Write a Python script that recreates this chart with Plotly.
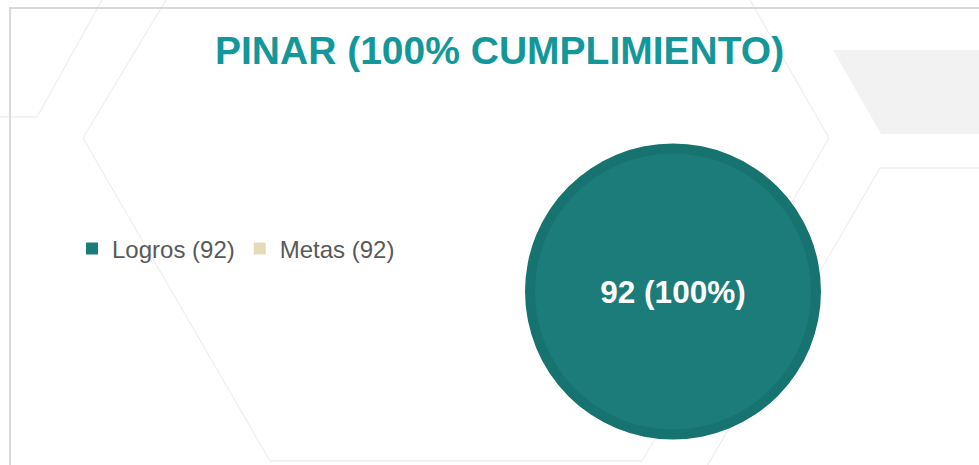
import plotly.graph_objects as go

# Counts for PINAR
logros = 92
metas = 92
pendiente = metas - logros

labels = [f"Logros ({logros})", f"Metas ({metas})"]
values = [logros, pendiente]
colors = ["#1c7c79", "#e6dbb9"]
ring_color = "#177370"
title_text = "PINAR (100% CUMPLIMIENTO)"

W, H = 979, 465


def px(x):
    return x / W


def py(y):
    return 1 - y / H


def seg(x0, y0, x1, y1, color="#efefef", width=1.3):
    return dict(type="line", xref="paper", yref="paper",
                x0=px(x0), y0=py(y0), x1=px(x1), y1=py(y1),
                line=dict(color=color, width=width), layer="below")


shapes = [
    # soft grey band top right
    dict(type="path", xref="paper", yref="paper", layer="below",
         path=f"M {px(833)} {py(50)} L {px(979)} {py(50)} L {px(979)} {py(134)} "
              f"L {px(881)} {py(134)} Z",
         fillcolor="#f2f2f2", line=dict(width=0)),
    # hexagon outlines in the background
    seg(102, 0, 37, 117), seg(37, 117, 0, 117),
    seg(166, 0, 83, 138), seg(83, 138, 270, 461), seg(270, 461, 642, 461),
    seg(642, 461, 829, 138), seg(829, 138, 750, 0),
    seg(880, 168, 979, 168), seg(880, 168, 702, 475),
    # slide frame
    seg(9, 8, 979, 8, color="#d9d9d9", width=2),
    seg(10, 8, 10, 465, color="#d9d9d9", width=2),
]

cx, cy = 673, 291.5
r_outer, r_inner = 148, 138


def domain(r):
    return dict(x=[px(cx - r), px(cx + r)], y=[py(cy + r), py(cy - r)])


fig = go.Figure()

# darker rim drawn behind the main pie
fig.add_trace(go.Pie(
    labels=["anillo"],
    values=[logros],
    marker=dict(colors=[ring_color]),
    textinfo="none",
    hoverinfo="skip",
    showlegend=False,
    sort=False,
    domain=domain(r_outer),
))

fig.add_trace(go.Pie(
    labels=labels,
    values=values,
    sort=False,
    direction="clockwise",
    marker=dict(colors=colors, line=dict(width=0)),
    texttemplate=["%{value} (%{percent:.0%})", ""],
    textposition="inside",
    insidetextorientation="horizontal",
    textfont=dict(family="Liberation Sans", size=31.5, color="white", weight="bold"),
    hoverinfo="label+value+percent",
    domain=domain(r_inner),
))

fig.update_layout(
    width=W, height=H,
    margin=dict(l=0, r=0, t=0, b=0),
    paper_bgcolor="white",
    plot_bgcolor="white",
    shapes=shapes,
    annotations=[dict(
        text=f"<b>{title_text}</b>", xref="paper", yref="paper",
        x=px(500), y=py(50), xanchor="center", yanchor="middle",
        showarrow=False,
        font=dict(family="Liberation Sans", size=39, color="#14979a"),
    )],
    legend=dict(
        orientation="h",
        x=px(72), y=py(249), xanchor="left", yanchor="middle",
        font=dict(family="Liberation Sans", size=24, color="#595959"),
        bgcolor="rgba(0,0,0,0)",
        itemclick=False,
    ),
    showlegend=True,
)

fig.write_html("out.html")
